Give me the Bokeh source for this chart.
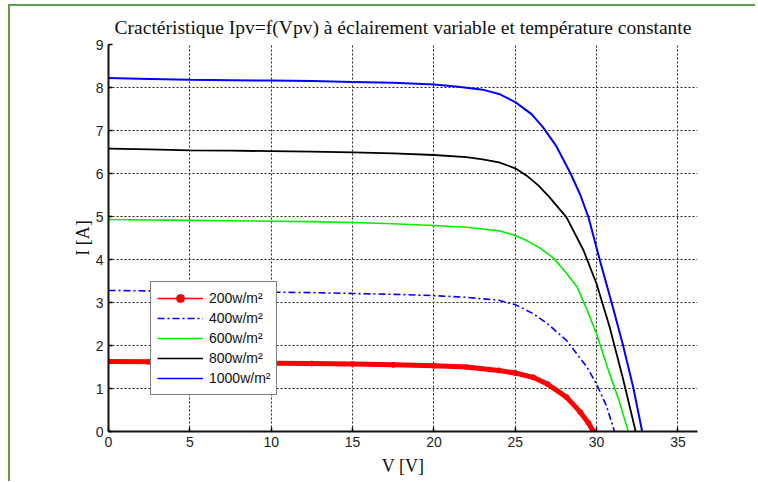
from bokeh.plotting import figure
from bokeh.models import Legend, LegendItem, Range1d, FixedTicker
from bokeh.embed import file_html
from bokeh.resources import INLINE

# ---- data ----
v_200 = [0, 2.5, 5, 7.5, 10, 12.5, 15, 17.5, 20, 22, 24, 25, 26.1, 27, 28.15, 29, 29.5, 29.8]
i_200 = [1.63, 1.62, 1.61, 1.60, 1.59, 1.58, 1.57, 1.55, 1.53, 1.50, 1.42, 1.36, 1.26, 1.10, 0.80, 0.45, 0.20, 0.0]

v_400 = [0, 2.5, 5, 7.5, 10, 12.5, 15, 17.5, 20, 22, 24, 25, 26.1, 27, 28.15, 29.4, 30, 30.6, 31.1]
i_400 = [3.28, 3.27, 3.26, 3.25, 3.24, 3.23, 3.21, 3.19, 3.16, 3.12, 3.05, 2.95, 2.74, 2.50, 2.12, 1.50, 1.10, 0.60, 0.0]

v_600 = [0, 2.5, 5, 7.5, 10, 12.5, 15, 17.5, 20, 22, 23, 24, 25, 25.7, 26.5, 27.3, 28, 28.8, 29.4, 30, 30.8, 31.4, 31.94]
i_600 = [4.93, 4.92, 4.91, 4.90, 4.89, 4.88, 4.86, 4.83, 4.79, 4.75, 4.71, 4.67, 4.56, 4.44, 4.27, 4.05, 3.75, 3.36, 2.84, 2.27, 1.34, 0.70, 0.0]

v_800 = [0, 2.5, 5, 7.5, 10, 12.5, 15, 17.5, 20, 22, 23, 24, 25, 25.7, 26.4, 27.1, 28.15, 29.2, 30, 30.8, 31.6, 32.4]
i_800 = [6.58, 6.56, 6.54, 6.53, 6.52, 6.51, 6.49, 6.47, 6.43, 6.38, 6.33, 6.26, 6.12, 5.95, 5.73, 5.45, 4.98, 4.21, 3.43, 2.43, 1.26, 0.0]

v_1000 = [0, 2.5, 5, 7.5, 10, 12.5, 15, 17.5, 20, 21.5, 23, 24, 25, 26, 26.7, 27.5, 28.4, 29, 29.5, 30.2, 31, 31.6, 32.25, 32.8]
i_1000 = [8.22, 8.20, 8.18, 8.17, 8.16, 8.15, 8.13, 8.11, 8.07, 8.02, 7.95, 7.85, 7.66, 7.38, 7.08, 6.65, 6.00, 5.50, 4.98, 3.98, 2.89, 2.04, 1.03, 0.0]

labels = ["200w/m\u00b2", "400w/m\u00b2", "600w/m\u00b2", "800w/m\u00b2", "1000w/m\u00b2"]
x_ticks = [0, 5, 10, 15, 20, 25, 30, 35]
y_ticks = [0, 1, 2, 3, 4, 5, 6, 7, 8, 9]

title = "Cract\u00e9ristique Ipv=f(Vpv) \u00e0 \u00e9clairement variable et temp\u00e9rature constante"

p = figure(frame_width=589, frame_height=387, output_backend="svg", toolbar_location=None,
           x_range=Range1d(0, 36.2), y_range=Range1d(0, 9), title=title,
           min_border_left=98, min_border_right=58, min_border_top=38, min_border_bottom=50)
p.margin = (4, 0, 0, 8)
p.outline_line_color = None
p.background_fill_color = "white"
p.border_fill_color = "white"
p.styles = {"border-left": "2px solid #5f9e4f", "border-top": "2px solid #5f9e4f"}

p.title.text_font = "Liberation Serif"
p.title.text_font_size = "19.5px"
p.title.text_font_style = "normal"
p.title.align = "center"
p.title.text_color = "#111111"
p.title.standoff = 14

for ax in (p.xaxis[0], p.yaxis[0]):
    ax.major_tick_in = 4
    ax.major_tick_out = 0
    ax.minor_tick_in = 0
    ax.minor_tick_out = 0
    ax.axis_line_color = "#111111"
    ax.axis_line_width = 2
    ax.major_tick_line_color = "black"
    ax.major_tick_line_width = 1.5
    ax.major_label_text_font = "Liberation Sans"
    ax.major_label_text_font_size = "14px"
    ax.major_label_text_color = "#222222"
    ax.axis_label_text_font = "Liberation Serif"
    ax.axis_label_text_font_size = "18px"
    ax.axis_label_text_font_style = "normal"
    ax.axis_label_text_color = "#111111"

p.xaxis[0].ticker = FixedTicker(ticks=x_ticks)
p.yaxis[0].ticker = FixedTicker(ticks=y_ticks)
p.xaxis[0].axis_label = "V [V]"
p.yaxis[0].axis_label = "I [A]"
p.xaxis[0].major_label_standoff = 5
p.yaxis[0].major_label_standoff = 5
p.xaxis[0].axis_label_standoff = 6
p.yaxis[0].axis_label_standoff = 0

for g, t in ((p.xgrid[0], x_ticks), (p.ygrid[0], y_ticks)):
    g.ticker = FixedTicker(ticks=t)
    g.grid_line_color = "#222222"
    g.grid_line_dash = "2 2"
    g.grid_line_width = 1

# curves
p.line(v_200, i_200, color="red", line_width=5)
p.scatter(v_200, i_200, color="red", size=5)
p.line(v_400, i_400, color="blue", line_width=1.6, line_dash="7 3 2 3")
p.line(v_600, i_600, color="#00ee00", line_width=1.6)
p.line(v_800, i_800, color="black", line_width=1.8)
p.line(v_1000, i_1000, color="blue", line_width=2)

# legend proxies (placed outside the visible ranges)
px = [-10, -9]
py = [-10, -9]
r1a = p.line(px, py, color="red", line_width=1.6)
r1b = p.scatter([-10], [-10], color="red", size=3, line_width=1)
r2 = p.line(px, py, color="blue", line_width=1.6, line_dash="7 3 2 3")
r3 = p.line(px, py, color="#00ee00", line_width=1.6)
r4 = p.line(px, py, color="black", line_width=1.6)
r5 = p.line(px, py, color="blue", line_width=1.6)

legend = Legend(items=[
    LegendItem(label=labels[0], renderers=[r1a, r1b]),
    LegendItem(label=labels[1], renderers=[r2]),
    LegendItem(label=labels[2], renderers=[r3]),
    LegendItem(label=labels[3], renderers=[r4]),
    LegendItem(label=labels[4], renderers=[r5]),
], location=(42, 36))
legend.label_text_font = "Liberation Sans"
legend.label_text_font_size = "14px"
legend.label_text_color = "#111111"
legend.border_line_color = "black"
legend.border_line_width = 1
legend.background_fill_color = "white"
legend.background_fill_alpha = 1
legend.padding = 6
legend.spacing = 0
legend.margin = 0
legend.label_height = 20
legend.glyph_height = 20
legend.glyph_width = 46
legend.label_standoff = 6
p.add_layout(legend, "center")

open("out.html", "w").write(file_html(p, INLINE))
